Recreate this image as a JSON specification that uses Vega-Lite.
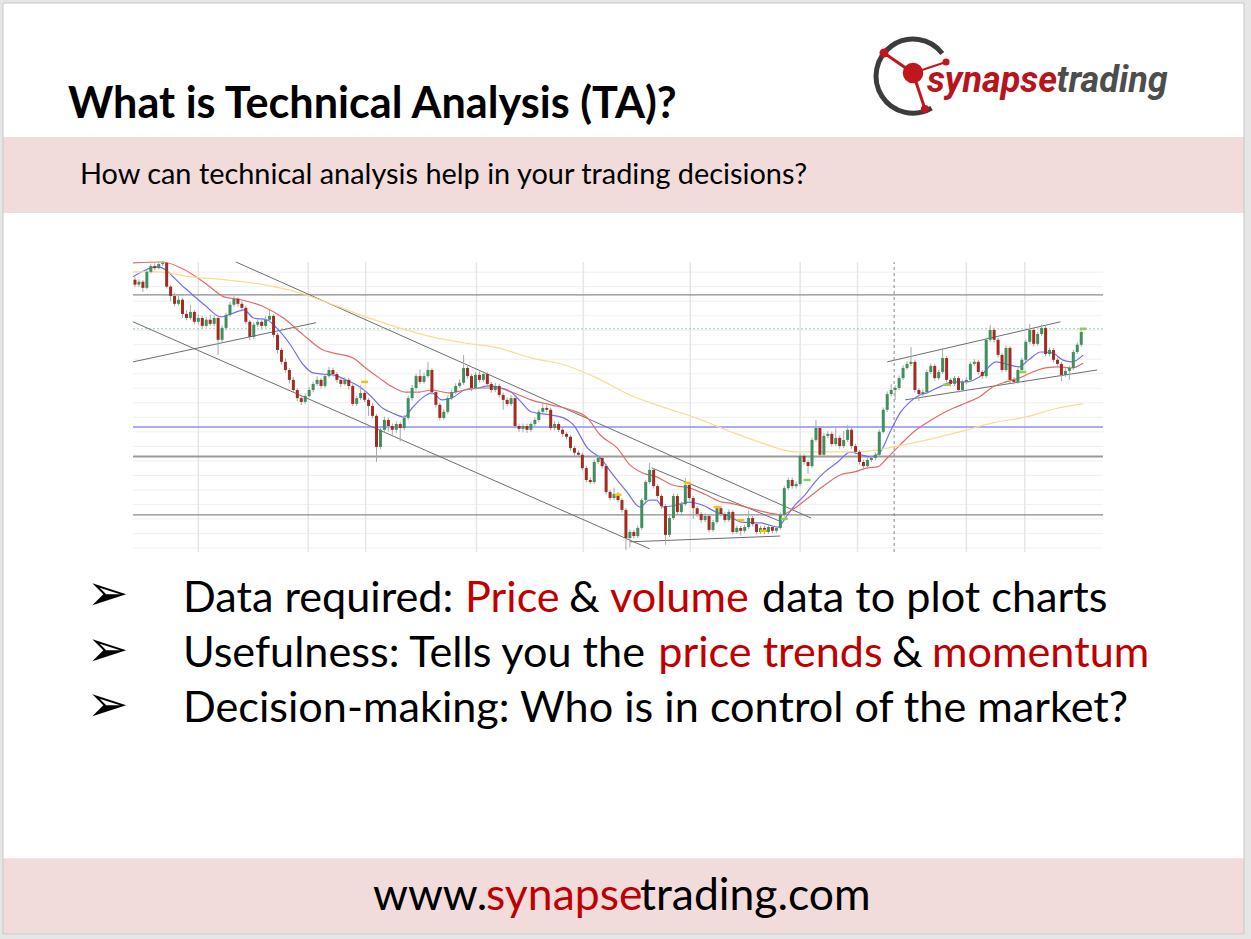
{
"$schema":"https://vega.github.io/schema/vega-lite/v6.json",
"width":1251,"height":939,"autosize":{"type":"none"},"padding":0,"background":"#ffffff",
"config":{"view":{"stroke":null}},
"datasets":{
"candles":[
{"i":0,"o":192.4,"h":193.3,"l":189.8,"c":190.7},{"i":1,"o":190.7,"h":192.5,"l":189.9,"c":191.7},{"i":2,"o":191.7,"h":192.3,"l":188.2,"c":189.6},{"i":3,"o":189.6,"h":195.8,"l":189.0,"c":195.1},{"i":4,"o":195.1,"h":197.9,"l":194.5,"c":197.1},{"i":5,"o":197.1,"h":198.0,"l":195.6,"c":196.4},{"i":6,"o":196.4,"h":198.6,"l":195.9,"c":197.8},{"i":7,"o":197.8,"h":198.9,"l":197.0,"c":198.2},{"i":8,"o":198.2,"h":198.6,"l":189.3,"c":190.0},{"i":9,"o":190.0,"h":190.6,"l":185.0,"c":186.8},
{"i":10,"o":186.8,"h":187.9,"l":183.2,"c":184.1},{"i":11,"o":184.1,"h":186.9,"l":183.5,"c":185.5},{"i":12,"o":185.5,"h":186.1,"l":179.2,"c":180.6},{"i":13,"o":180.6,"h":181.9,"l":178.4,"c":179.2},{"i":14,"o":179.2,"h":183.8,"l":178.6,"c":181.3},{"i":15,"o":181.3,"h":182.0,"l":177.0,"c":177.9},{"i":16,"o":177.9,"h":180.4,"l":177.1,"c":179.2},{"i":17,"o":179.2,"h":180.0,"l":175.4,"c":176.5},{"i":18,"o":176.5,"h":179.5,"l":175.9,"c":178.6},{"i":19,"o":178.6,"h":180.3,"l":176.5,"c":177.2},
{"i":20,"o":177.2,"h":180.1,"l":176.3,"c":179.2},{"i":21,"o":179.2,"h":179.8,"l":166.5,"c":171.7},{"i":22,"o":171.7,"h":176.6,"l":170.9,"c":175.8},{"i":23,"o":175.8,"h":181.0,"l":175.0,"c":180.3},{"i":24,"o":180.3,"h":184.7,"l":179.6,"c":183.8},{"i":25,"o":183.8,"h":186.8,"l":183.1,"c":185.8},{"i":26,"o":185.8,"h":186.4,"l":183.2,"c":184.1},{"i":27,"o":184.1,"h":185.0,"l":181.5,"c":182.7},{"i":28,"o":182.7,"h":183.4,"l":177.0,"c":177.9},{"i":29,"o":177.9,"h":178.5,"l":171.6,"c":172.7},
{"i":30,"o":172.7,"h":177.8,"l":172.0,"c":176.9},{"i":31,"o":176.9,"h":178.8,"l":176.1,"c":177.9},{"i":32,"o":177.9,"h":178.6,"l":175.3,"c":176.5},{"i":33,"o":176.5,"h":179.7,"l":175.9,"c":178.6},{"i":34,"o":178.6,"h":181.9,"l":177.8,"c":179.9},{"i":35,"o":179.9,"h":180.6,"l":172.5,"c":173.4},{"i":36,"o":173.4,"h":174.1,"l":167.0,"c":168.2},{"i":37,"o":168.2,"h":168.9,"l":163.2,"c":164.1},{"i":38,"o":164.1,"h":165.3,"l":160.4,"c":161.3},{"i":39,"o":161.3,"h":162.0,"l":156.6,"c":157.9},
{"i":40,"o":157.9,"h":158.9,"l":153.5,"c":154.4},{"i":41,"o":154.4,"h":155.1,"l":150.5,"c":151.6},{"i":42,"o":151.6,"h":152.5,"l":149.2,"c":150.3},{"i":43,"o":150.3,"h":153.2,"l":149.6,"c":152.3},{"i":44,"o":152.3,"h":155.4,"l":151.8,"c":154.4},{"i":45,"o":154.4,"h":157.3,"l":153.6,"c":156.5},{"i":46,"o":156.5,"h":159.1,"l":155.9,"c":157.9},{"i":47,"o":157.9,"h":158.5,"l":154.9,"c":155.8},{"i":48,"o":155.8,"h":160.0,"l":155.1,"c":159.2},{"i":49,"o":159.2,"h":162.4,"l":158.5,"c":161.3},
{"i":50,"o":161.3,"h":162.1,"l":159.0,"c":159.9},{"i":51,"o":159.9,"h":160.6,"l":156.9,"c":157.9},{"i":52,"o":157.9,"h":158.7,"l":155.4,"c":156.5},{"i":53,"o":156.5,"h":158.8,"l":155.9,"c":157.9},{"i":54,"o":157.9,"h":158.6,"l":154.6,"c":155.8},{"i":55,"o":155.8,"h":156.4,"l":148.8,"c":149.6},{"i":56,"o":149.6,"h":152.4,"l":148.9,"c":151.6},{"i":57,"o":151.6,"h":156.2,"l":150.9,"c":153.4},{"i":58,"o":153.4,"h":154.3,"l":150.2,"c":151.0},{"i":59,"o":151.0,"h":151.7,"l":145.5,"c":148.9},
{"i":60,"o":148.9,"h":149.8,"l":144.6,"c":145.5},{"i":61,"o":145.5,"h":146.2,"l":129.6,"c":134.8},{"i":62,"o":134.8,"h":141.5,"l":134.0,"c":140.7},{"i":63,"o":140.7,"h":145.2,"l":139.8,"c":144.1},{"i":64,"o":144.1,"h":144.9,"l":140.1,"c":142.0},{"i":65,"o":142.0,"h":142.9,"l":139.0,"c":140.7},{"i":66,"o":140.7,"h":143.6,"l":139.6,"c":142.7},{"i":67,"o":142.7,"h":143.4,"l":136.7,"c":141.3},{"i":68,"o":141.3,"h":145.8,"l":140.5,"c":144.8},{"i":69,"o":144.8,"h":152.4,"l":144.1,"c":151.6},
{"i":70,"o":151.6,"h":156.1,"l":150.7,"c":155.1},{"i":71,"o":155.1,"h":160.0,"l":154.3,"c":159.2},{"i":72,"o":159.2,"h":161.5,"l":156.4,"c":157.2},{"i":73,"o":157.2,"h":160.4,"l":156.5,"c":159.2},{"i":74,"o":159.2,"h":164.1,"l":158.6,"c":161.3},{"i":75,"o":161.3,"h":161.9,"l":152.8,"c":153.7},{"i":76,"o":153.7,"h":154.4,"l":148.4,"c":149.3},{"i":77,"o":149.3,"h":150.0,"l":143.9,"c":144.8},{"i":78,"o":144.8,"h":147.8,"l":144.1,"c":146.9},{"i":79,"o":146.9,"h":152.5,"l":146.2,"c":151.6},
{"i":80,"o":151.6,"h":154.6,"l":150.9,"c":153.7},{"i":81,"o":153.7,"h":156.7,"l":153.0,"c":155.8},{"i":82,"o":155.8,"h":158.1,"l":155.1,"c":156.9},{"i":83,"o":156.9,"h":166.5,"l":156.2,"c":162.0},{"i":84,"o":162.0,"h":162.8,"l":158.3,"c":159.2},{"i":85,"o":159.2,"h":159.9,"l":154.0,"c":155.1},{"i":86,"o":155.1,"h":160.5,"l":154.5,"c":159.6},{"i":87,"o":159.6,"h":160.8,"l":157.1,"c":157.9},{"i":88,"o":157.9,"h":160.7,"l":157.2,"c":159.9},{"i":89,"o":159.9,"h":160.6,"l":155.6,"c":156.5},
{"i":90,"o":156.5,"h":157.2,"l":153.4,"c":154.4},{"i":91,"o":154.4,"h":156.9,"l":153.7,"c":155.8},{"i":92,"o":155.8,"h":156.6,"l":151.8,"c":152.7},{"i":93,"o":152.7,"h":153.5,"l":147.6,"c":151.0},{"i":94,"o":151.0,"h":151.9,"l":148.7,"c":149.6},{"i":95,"o":149.6,"h":152.6,"l":148.9,"c":151.6},{"i":96,"o":151.6,"h":152.3,"l":141.2,"c":142.0},{"i":97,"o":142.0,"h":142.8,"l":140.0,"c":141.0},{"i":98,"o":141.0,"h":142.9,"l":139.8,"c":142.0},{"i":99,"o":142.0,"h":142.8,"l":139.6,"c":140.7},
{"i":100,"o":140.7,"h":143.5,"l":140.0,"c":142.7},{"i":101,"o":142.7,"h":145.0,"l":142.0,"c":144.1},{"i":102,"o":144.1,"h":147.7,"l":143.4,"c":146.9},{"i":103,"o":146.9,"h":149.5,"l":146.2,"c":148.2},{"i":104,"o":148.2,"h":149.2,"l":146.8,"c":147.6},{"i":105,"o":147.6,"h":148.3,"l":140.5,"c":141.3},{"i":106,"o":141.3,"h":143.6,"l":140.4,"c":142.7},{"i":107,"o":142.7,"h":143.4,"l":139.9,"c":140.7},{"i":108,"o":140.7,"h":141.4,"l":138.4,"c":139.3},{"i":109,"o":139.3,"h":140.0,"l":137.4,"c":138.3},
{"i":110,"o":138.3,"h":139.0,"l":133.5,"c":134.4},{"i":111,"o":134.4,"h":135.2,"l":131.9,"c":132.8},{"i":112,"o":132.8,"h":133.6,"l":131.2,"c":132.1},{"i":113,"o":132.1,"h":132.8,"l":126.6,"c":127.5},{"i":114,"o":127.5,"h":128.3,"l":122.5,"c":123.4},{"i":115,"o":123.4,"h":124.4,"l":121.9,"c":122.7},{"i":116,"o":122.7,"h":130.4,"l":122.0,"c":129.6},{"i":117,"o":129.6,"h":132.0,"l":128.9,"c":131.0},{"i":118,"o":131.0,"h":131.7,"l":127.3,"c":128.2},{"i":119,"o":128.2,"h":128.9,"l":118.4,"c":119.3},
{"i":120,"o":119.3,"h":120.0,"l":116.3,"c":117.2},{"i":121,"o":117.2,"h":120.8,"l":116.5,"c":118.6},{"i":122,"o":118.6,"h":119.3,"l":115.6,"c":116.5},{"i":123,"o":116.5,"h":117.2,"l":112.2,"c":113.1},{"i":124,"o":113.1,"h":113.8,"l":99.3,"c":103.4},{"i":125,"o":103.4,"h":106.3,"l":100.2,"c":105.5},{"i":126,"o":105.5,"h":106.2,"l":103.2,"c":104.1},{"i":127,"o":104.1,"h":107.7,"l":103.4,"c":106.9},{"i":128,"o":106.9,"h":117.3,"l":106.2,"c":116.5},{"i":129,"o":116.5,"h":123.5,"l":115.8,"c":122.7},
{"i":130,"o":122.7,"h":129.3,"l":122.0,"c":126.9},{"i":131,"o":126.9,"h":127.6,"l":120.4,"c":121.3},{"i":132,"o":121.3,"h":122.0,"l":117.0,"c":117.9},{"i":133,"o":117.9,"h":118.6,"l":113.5,"c":114.4},{"i":134,"o":114.4,"h":115.1,"l":101.1,"c":104.5},{"i":135,"o":104.5,"h":111.1,"l":103.8,"c":110.3},{"i":136,"o":110.3,"h":118.7,"l":109.6,"c":117.9},{"i":137,"o":117.9,"h":118.6,"l":111.5,"c":112.4},{"i":138,"o":112.4,"h":116.0,"l":111.7,"c":115.1},{"i":139,"o":115.1,"h":124.1,"l":114.4,"c":121.7},
{"i":140,"o":121.7,"h":122.4,"l":116.3,"c":117.2},{"i":141,"o":117.2,"h":117.9,"l":110.0,"c":113.7},{"i":142,"o":113.7,"h":114.5,"l":110.8,"c":111.7},{"i":143,"o":111.7,"h":112.4,"l":108.7,"c":109.6},{"i":144,"o":109.6,"h":111.9,"l":108.9,"c":111.0},{"i":145,"o":111.0,"h":111.7,"l":105.3,"c":106.2},{"i":146,"o":106.2,"h":109.7,"l":105.5,"c":108.9},{"i":147,"o":108.9,"h":114.6,"l":108.2,"c":113.7},{"i":148,"o":113.7,"h":114.4,"l":110.8,"c":111.7},{"i":149,"o":111.7,"h":112.4,"l":108.7,"c":109.6},
{"i":150,"o":109.6,"h":113.3,"l":108.9,"c":112.4},{"i":151,"o":112.4,"h":113.1,"l":104.6,"c":105.5},{"i":152,"o":105.5,"h":107.7,"l":104.8,"c":106.9},{"i":153,"o":106.9,"h":107.6,"l":104.2,"c":105.9},{"i":154,"o":105.9,"h":108.0,"l":105.2,"c":107.2},{"i":155,"o":107.2,"h":112.8,"l":106.5,"c":110.3},{"i":156,"o":110.3,"h":111.0,"l":107.4,"c":108.2},{"i":157,"o":108.2,"h":108.9,"l":104.6,"c":105.5},{"i":158,"o":105.5,"h":107.7,"l":104.8,"c":106.9},{"i":159,"o":106.9,"h":107.6,"l":104.7,"c":105.5},
{"i":160,"o":105.5,"h":108.0,"l":104.9,"c":107.2},{"i":161,"o":107.2,"h":107.9,"l":105.0,"c":105.9},{"i":162,"o":105.9,"h":107.6,"l":105.2,"c":106.9},{"i":163,"o":106.9,"h":112.2,"l":106.2,"c":111.4},{"i":164,"o":111.4,"h":121.4,"l":110.7,"c":120.6},{"i":165,"o":120.6,"h":124.3,"l":119.9,"c":123.4},{"i":166,"o":123.4,"h":124.2,"l":120.4,"c":121.3},{"i":167,"o":121.3,"h":122.9,"l":120.5,"c":122.0},{"i":168,"o":122.0,"h":132.5,"l":121.3,"c":131.7},{"i":169,"o":131.7,"h":132.4,"l":128.7,"c":129.6},
{"i":170,"o":129.6,"h":130.3,"l":125.5,"c":128.2},{"i":171,"o":128.2,"h":138.0,"l":127.5,"c":137.2},{"i":172,"o":137.2,"h":144.1,"l":136.5,"c":141.3},{"i":173,"o":141.3,"h":142.0,"l":131.2,"c":132.1},{"i":174,"o":132.1,"h":139.5,"l":131.4,"c":138.6},{"i":175,"o":138.6,"h":140.2,"l":137.8,"c":139.3},{"i":176,"o":139.3,"h":140.1,"l":134.9,"c":135.8},{"i":177,"o":135.8,"h":141.2,"l":135.1,"c":137.9},{"i":178,"o":137.9,"h":138.7,"l":134.2,"c":135.1},{"i":179,"o":135.1,"h":140.4,"l":134.4,"c":137.2},
{"i":180,"o":137.2,"h":142.4,"l":136.5,"c":140.7},{"i":181,"o":140.7,"h":141.4,"l":134.2,"c":135.1},{"i":182,"o":135.1,"h":135.9,"l":132.2,"c":133.1},{"i":183,"o":133.1,"h":133.8,"l":128.7,"c":129.6},{"i":184,"o":129.6,"h":130.4,"l":126.9,"c":128.2},{"i":185,"o":128.2,"h":131.1,"l":127.5,"c":130.3},{"i":186,"o":130.3,"h":131.9,"l":129.6,"c":131.0},{"i":187,"o":131.0,"h":133.0,"l":130.2,"c":132.1},{"i":188,"o":132.1,"h":140.8,"l":131.4,"c":140.0},{"i":189,"o":140.0,"h":148.4,"l":139.3,"c":147.6},
{"i":190,"o":147.6,"h":153.9,"l":146.9,"c":153.0},{"i":191,"o":153.0,"h":156.5,"l":152.2,"c":154.4},{"i":192,"o":154.4,"h":156.0,"l":151.0,"c":155.1},{"i":193,"o":155.1,"h":159.4,"l":154.4,"c":158.5},{"i":194,"o":158.5,"h":162.9,"l":157.8,"c":162.0},{"i":195,"o":162.0,"h":164.3,"l":161.3,"c":163.4},{"i":196,"o":163.4,"h":169.2,"l":162.6,"c":164.1},{"i":197,"o":164.1,"h":164.8,"l":153.5,"c":154.4},{"i":198,"o":154.4,"h":155.1,"l":150.6,"c":153.0},{"i":199,"o":153.0,"h":154.6,"l":152.2,"c":153.7},
{"i":200,"o":153.7,"h":161.4,"l":153.0,"c":160.6},{"i":201,"o":160.6,"h":163.6,"l":159.9,"c":162.7},{"i":202,"o":162.7,"h":163.4,"l":157.6,"c":158.5},{"i":203,"o":158.5,"h":161.5,"l":157.8,"c":160.6},{"i":204,"o":160.6,"h":168.9,"l":159.9,"c":165.4},{"i":205,"o":165.4,"h":166.1,"l":157.0,"c":157.9},{"i":206,"o":157.9,"h":158.6,"l":155.6,"c":156.5},{"i":207,"o":156.5,"h":159.3,"l":155.8,"c":158.5},{"i":208,"o":158.5,"h":159.2,"l":153.5,"c":154.4},{"i":209,"o":154.4,"h":158.0,"l":153.7,"c":157.2},
{"i":210,"o":157.2,"h":158.8,"l":156.4,"c":157.9},{"i":211,"o":157.9,"h":164.2,"l":157.2,"c":163.4},{"i":212,"o":163.4,"h":165.0,"l":162.6,"c":164.1},{"i":213,"o":164.1,"h":164.8,"l":159.7,"c":160.6},{"i":214,"o":160.6,"h":161.3,"l":158.2,"c":159.2},{"i":215,"o":159.2,"h":172.5,"l":158.5,"c":171.7},{"i":216,"o":171.7,"h":176.8,"l":171.0,"c":175.1},{"i":217,"o":175.1,"h":175.9,"l":170.8,"c":171.7},{"i":218,"o":171.7,"h":172.4,"l":165.6,"c":166.5},{"i":219,"o":166.5,"h":167.2,"l":160.4,"c":161.3},
{"i":220,"o":161.3,"h":169.8,"l":160.6,"c":168.9},{"i":221,"o":168.9,"h":169.6,"l":156.8,"c":157.9},{"i":222,"o":157.9,"h":158.8,"l":156.3,"c":157.2},{"i":223,"o":157.2,"h":162.1,"l":156.5,"c":161.3},{"i":224,"o":161.3,"h":165.6,"l":160.6,"c":164.8},{"i":225,"o":164.8,"h":171.8,"l":164.1,"c":171.0},{"i":226,"o":171.0,"h":177.2,"l":170.3,"c":175.1},{"i":227,"o":175.1,"h":175.8,"l":169.4,"c":170.3},{"i":228,"o":170.3,"h":174.5,"l":169.6,"c":173.7},{"i":229,"o":173.7,"h":177.0,"l":173.0,"c":175.8},
{"i":230,"o":175.8,"h":176.5,"l":165.9,"c":166.8},{"i":231,"o":166.8,"h":169.1,"l":166.0,"c":168.2},{"i":232,"o":168.2,"h":168.9,"l":163.9,"c":164.8},{"i":233,"o":164.8,"h":165.5,"l":162.5,"c":163.4},{"i":234,"o":163.4,"h":164.1,"l":157.5,"c":159.6},{"i":235,"o":159.6,"h":161.9,"l":158.9,"c":161.0},{"i":236,"o":161.0,"h":162.8,"l":157.9,"c":162.0},{"i":237,"o":162.0,"h":168.3,"l":161.3,"c":167.5},{"i":238,"o":167.5,"h":170.8,"l":166.8,"c":170.0},{"i":239,"o":170.0,"h":175.5,"l":169.3,"c":174.4}
],
"ma":[
{"s":"fast","i":-0.5,"p":193.4},{"s":"fast","i":5.75,"p":196.8},{"s":"fast","i":12.5,"p":189.6},{"s":"fast","i":17.5,"p":183.8},{"s":"fast","i":21.75,"p":179.6},{"s":"fast","i":25,"p":181.0},{"s":"fast","i":27.5,"p":182.0},{"s":"fast","i":30,"p":179.2},{"s":"fast","i":33.25,"p":178.6},{"s":"fast","i":35.75,"p":175.8},{"s":"fast","i":39.25,"p":170.0},{"s":"fast","i":42.5,"p":163.1},{"s":"fast","i":45,"p":160.3},{"s":"fast","i":47.5,"p":159.9},{"s":"fast","i":50,"p":159.6},{"s":"fast","i":53.25,"p":157.9},{"s":"fast","i":56.75,"p":155.5},{"s":"fast","i":59.25,"p":152.7},{"s":"fast","i":62.5,"p":148.2},{"s":"fast","i":65,"p":146.5},{"s":"fast","i":68,"p":145.1},{"s":"fast","i":70,"p":148.2},{"s":"fast","i":72.5,"p":151.6},{"s":"fast","i":75,"p":153.4},{"s":"fast","i":77.5,"p":151.0},{"s":"fast","i":80,"p":151.6},{"s":"fast","i":83.25,"p":154.4},{"s":"fast","i":86.75,"p":155.1},{"s":"fast","i":89.25,"p":155.8},{"s":"fast","i":92.5,"p":155.1},{"s":"fast","i":95,"p":153.7},{"s":"fast","i":97.5,"p":150.3},{"s":"fast","i":100,"p":146.9},{"s":"fast","i":105,"p":145.8},{"s":"fast","i":108.25,"p":144.8},{"s":"fast","i":110.75,"p":142.4},{"s":"fast","i":114.25,"p":134.5},{"s":"fast","i":117.5,"p":131.0},{"s":"fast","i":120.75,"p":125.2},{"s":"fast","i":124.25,"p":119.3},{"s":"fast","i":127.5,"p":114.1},{"s":"fast","i":130,"p":116.5},{"s":"fast","i":131.75,"p":116.5},{"s":"fast","i":133.25,"p":114.1},{"s":"fast","i":136.75,"p":114.8},{"s":"fast","i":140,"p":115.8},{"s":"fast","i":143.25,"p":114.8},{"s":"fast","i":146.75,"p":112.4},{"s":"fast","i":150,"p":111.0},{"s":"fast","i":153.25,"p":108.9},{"s":"fast","i":158.25,"p":108.6},{"s":"fast","i":162.5,"p":107.2},{"s":"fast","i":164.25,"p":110.3},{"s":"fast","i":166.75,"p":114.8},{"s":"fast","i":169.25,"p":118.3},{"s":"fast","i":171.75,"p":122.7},{"s":"fast","i":174.25,"p":126.2},{"s":"fast","i":177.5,"p":129.6},{"s":"fast","i":180.75,"p":133.1},{"s":"fast","i":183.25,"p":132.1},{"s":"fast","i":185.75,"p":131.4},{"s":"fast","i":188.25,"p":133.1},{"s":"fast","i":190.75,"p":140.0},{"s":"fast","i":193.25,"p":146.5},{"s":"fast","i":195.75,"p":150.3},{"s":"fast","i":198.25,"p":152.7},{"s":"fast","i":200,"p":153.4},{"s":"fast","i":203.25,"p":155.5},{"s":"fast","i":206.75,"p":157.2},{"s":"fast","i":210,"p":157.2},{"s":"fast","i":213.25,"p":158.9},{"s":"fast","i":217.5,"p":164.1},{"s":"fast","i":220.75,"p":163.1},{"s":"fast","i":223.25,"p":162.4},{"s":"fast","i":225.75,"p":164.8},{"s":"fast","i":228.75,"p":167.5},{"s":"fast","i":231.75,"p":167.2},{"s":"fast","i":234.25,"p":164.8},{"s":"fast","i":236.75,"p":164.1},{"s":"fast","i":239.5,"p":166.5},
{"s":"mid","i":-0.5,"p":198.2},{"s":"mid","i":7,"p":198.5},{"s":"mid","i":12.5,"p":195.8},{"s":"mid","i":18.25,"p":190.7},{"s":"mid","i":22.5,"p":186.5},{"s":"mid","i":26.75,"p":185.5},{"s":"mid","i":32.5,"p":183.1},{"s":"mid","i":37.5,"p":179.2},{"s":"mid","i":42.5,"p":173.4},{"s":"mid","i":47.5,"p":168.2},{"s":"mid","i":50,"p":167.2},{"s":"mid","i":55,"p":165.5},{"s":"mid","i":58.25,"p":162.0},{"s":"mid","i":61.75,"p":158.5},{"s":"mid","i":65,"p":155.5},{"s":"mid","i":68.25,"p":153.7},{"s":"mid","i":71.75,"p":153.7},{"s":"mid","i":75,"p":154.4},{"s":"mid","i":79.25,"p":153.4},{"s":"mid","i":83.25,"p":154.4},{"s":"mid","i":87.5,"p":155.1},{"s":"mid","i":91.75,"p":155.1},{"s":"mid","i":95,"p":153.7},{"s":"mid","i":98.25,"p":152.0},{"s":"mid","i":100,"p":151.0},{"s":"mid","i":105,"p":149.3},{"s":"mid","i":110,"p":147.6},{"s":"mid","i":114.25,"p":144.8},{"s":"mid","i":117.5,"p":138.9},{"s":"mid","i":121.75,"p":134.5},{"s":"mid","i":125,"p":128.6},{"s":"mid","i":128.25,"p":125.8},{"s":"mid","i":131.75,"p":124.5},{"s":"mid","i":135.75,"p":121.7},{"s":"mid","i":140,"p":120.7},{"s":"mid","i":144.25,"p":118.3},{"s":"mid","i":148.25,"p":115.8},{"s":"mid","i":150,"p":115.5},{"s":"mid","i":155,"p":113.8},{"s":"mid","i":160,"p":112.1},{"s":"mid","i":163.25,"p":111.4},{"s":"mid","i":166.75,"p":113.8},{"s":"mid","i":170,"p":117.2},{"s":"mid","i":174.25,"p":121.7},{"s":"mid","i":178.25,"p":125.2},{"s":"mid","i":181.75,"p":126.2},{"s":"mid","i":185,"p":127.6},{"s":"mid","i":187.5,"p":127.9},{"s":"mid","i":190,"p":131.0},{"s":"mid","i":193.25,"p":135.5},{"s":"mid","i":196.75,"p":140.0},{"s":"mid","i":200,"p":143.1},{"s":"mid","i":203.25,"p":145.8},{"s":"mid","i":206.75,"p":148.2},{"s":"mid","i":210,"p":150.0},{"s":"mid","i":213.25,"p":152.0},{"s":"mid","i":216.75,"p":155.5},{"s":"mid","i":220,"p":157.2},{"s":"mid","i":223.25,"p":158.5},{"s":"mid","i":226.75,"p":160.6},{"s":"mid","i":230,"p":162.0},{"s":"mid","i":233.25,"p":162.4},{"s":"mid","i":236.75,"p":162.0},{"s":"mid","i":239.5,"p":163.7},
{"s":"slow","i":-0.5,"p":195.1},{"s":"slow","i":5.75,"p":195.1},{"s":"slow","i":14.25,"p":193.4},{"s":"slow","i":22.5,"p":192.4},{"s":"slow","i":32.5,"p":190.7},{"s":"slow","i":40.75,"p":188.2},{"s":"slow","i":50,"p":183.8},{"s":"slow","i":58.25,"p":179.6},{"s":"slow","i":66.75,"p":175.8},{"s":"slow","i":75,"p":172.7},{"s":"slow","i":83.25,"p":170.6},{"s":"slow","i":91.75,"p":168.9},{"s":"slow","i":100,"p":165.5},{"s":"slow","i":108.25,"p":163.1},{"s":"slow","i":116.75,"p":158.5},{"s":"slow","i":125,"p":152.7},{"s":"slow","i":133.25,"p":148.6},{"s":"slow","i":141.75,"p":144.8},{"s":"slow","i":150,"p":140.3},{"s":"slow","i":158.25,"p":136.2},{"s":"slow","i":166.75,"p":133.1},{"s":"slow","i":175,"p":133.1},{"s":"slow","i":183.25,"p":133.1},{"s":"slow","i":191.75,"p":134.8},{"s":"slow","i":200,"p":137.2},{"s":"slow","i":208.25,"p":140.0},{"s":"slow","i":216.75,"p":143.1},{"s":"slow","i":225,"p":145.1},{"s":"slow","i":233.25,"p":148.2},{"s":"slow","i":239.5,"p":149.6}
],
"trend":[
{"i1":25.5,"p1":198.5,"i2":170.75,"p2":110.3},{"i1":-0.5,"p1":177.9,"i2":130,"p2":99.7},{"i1":-0.5,"p1":164.1,"i2":45.75,"p2":177.6},{"i1":125,"p1":102.1,"i2":163,"p2":104.1},{"i1":130.5,"p1":127.6,"i2":163.25,"p2":109.0},{"i1":190,"p1":164.1,"i2":233.75,"p2":177.9},{"i1":194.5,"p1":151.0,"i2":243,"p2":161.3}
],
"signals":[
{"k":"y","i":58,"p":157.2},{"k":"y","i":122,"p":118.3},{"k":"y","i":139.5,"p":122.4},{"k":"y","i":147,"p":114.1},{"k":"y","i":153,"p":109.6},{"k":"y","i":158.75,"p":105.9},
{"k":"g","i":164,"p":110.0},{"k":"g","i":169.75,"p":123.4},{"k":"g","i":205,"p":156.2},{"k":"g","i":224.25,"p":160.6},{"k":"g","i":239.5,"p":175.5}
],
"vgrid":[{"g":16},{"g":43.75},{"g":58.25},{"g":86.25},{"g":113.25},{"g":140.25},{"g":168},{"g":182.5},{"g":210},{"g":224.75}],
"hgrid":[{"g":100},{"g":105},{"g":110},{"g":115},{"g":120},{"g":125},{"g":130},{"g":135},{"g":140},{"g":145},{"g":150},{"g":155},{"g":160},{"g":165},{"g":170},{"g":175},{"g":180},{"g":185},{"g":190},{"g":195}]
},
"resolve":{"scale":{"x":"independent","y":"independent","color":"independent"}},
"layer":[
{"layer":[
{"data":{"values":[{"p":"header"}]},"mark":{"type":"rect","color":"#f2dcdb"},"encoding":{"x":{"datum":0,"type":"quantitative","scale":{"domain":[0,10],"range":[3,1244]},"axis":null},"x2":{"datum":10},"y":{"datum":1.08,"type":"quantitative","scale":{"domain":[0,7.5],"range":[3,934]},"axis":null},"y2":{"datum":1.692}}},
{"data":{"values":[{"p":"footer"}]},"mark":{"type":"rect","color":"#f2dcdb"},"encoding":{"x":{"datum":0,"type":"quantitative","scale":{"domain":[0,10],"range":[3,1244]},"axis":null},"x2":{"datum":10},"y":{"datum":6.89,"type":"quantitative","scale":{"domain":[0,7.5],"range":[3,934]},"axis":null},"y2":{"datum":7.5}}},
{"data":{"values":[{"p":"frame"}]},"mark":{"type":"rect","filled":false,"stroke":"#e6e6e6","strokeWidth":10},"encoding":{"x":{"datum":-0.04,"type":"quantitative","scale":{"domain":[0,10],"range":[3,1244]},"axis":null},"x2":{"datum":10.04},"y":{"datum":-0.04,"type":"quantitative","scale":{"domain":[0,7.5],"range":[3,934]},"axis":null},"y2":{"datum":7.542}}},
{"data":{"values":[{"p":"edge"}]},"mark":{"type":"rect","filled":false,"stroke":"#c8c8c8","strokeWidth":1},"encoding":{"x":{"datum":0,"type":"quantitative","scale":{"domain":[0,10],"range":[3,1244]},"axis":null},"x2":{"datum":10},"y":{"datum":0,"type":"quantitative","scale":{"domain":[0,7.5],"range":[3,934]},"axis":null},"y2":{"datum":7.5}}},
{"data":{"values":[{"t":"What is Technical Analysis (TA)?"}]},"mark":{"type":"text","align":"left","baseline":"alphabetic","font":"Lato","fontWeight":"bold","fontSize":43.2,"color":"#000000"},"encoding":{"x":{"datum":0.524,"type":"quantitative","scale":{"domain":[0,10],"range":[3,1244]},"axis":null},"y":{"datum":0.927,"type":"quantitative","scale":{"domain":[0,7.5],"range":[3,934]},"axis":null},"text":{"field":"t"}}},
{"data":{"values":[{"t":"How can technical analysis help in your trading decisions?"}]},"mark":{"type":"text","align":"left","baseline":"alphabetic","font":"Lato","fontSize":28.9,"color":"#000000"},"encoding":{"x":{"datum":0.62,"type":"quantitative","scale":{"domain":[0,10],"range":[3,1244]},"axis":null},"y":{"datum":1.459,"type":"quantitative","scale":{"domain":[0,7.5],"range":[3,934]},"axis":null},"text":{"field":"t"}}},
{"data":{"values":[{"t":"➢"}]},"mark":{"type":"text","align":"left","baseline":"middle","font":"DejaVu Sans","fontSize":50,"color":"#000000"},"encoding":{"x":{"datum":0.675,"type":"quantitative","scale":{"domain":[0,10],"range":[3,1244]},"axis":null},"y":{"datum":4.77,"type":"quantitative","scale":{"domain":[0,7.5],"range":[3,934]},"axis":null},"text":{"field":"t"}}},
{"data":{"values":[{"t":"➢"}]},"mark":{"type":"text","align":"left","baseline":"middle","font":"DejaVu Sans","fontSize":50,"color":"#000000"},"encoding":{"x":{"datum":0.675,"type":"quantitative","scale":{"domain":[0,10],"range":[3,1244]},"axis":null},"y":{"datum":5.217,"type":"quantitative","scale":{"domain":[0,7.5],"range":[3,934]},"axis":null},"text":{"field":"t"}}},
{"data":{"values":[{"t":"➢"}]},"mark":{"type":"text","align":"left","baseline":"middle","font":"DejaVu Sans","fontSize":50,"color":"#000000"},"encoding":{"x":{"datum":0.675,"type":"quantitative","scale":{"domain":[0,10],"range":[3,1244]},"axis":null},"y":{"datum":5.665,"type":"quantitative","scale":{"domain":[0,7.5],"range":[3,934]},"axis":null},"text":{"field":"t"}}},
{"data":{"values":[{"t":"Data required:"}]},"mark":{"type":"text","align":"left","baseline":"alphabetic","font":"Lato","fontSize":43.2,"color":"#000000"},"encoding":{"x":{"datum":1.45,"type":"quantitative","scale":{"domain":[0,10],"range":[3,1244]},"axis":null},"y":{"datum":4.907,"type":"quantitative","scale":{"domain":[0,7.5],"range":[3,934]},"axis":null},"text":{"field":"t"}}},
{"data":{"values":[{"t":"Price"}]},"mark":{"type":"text","align":"left","baseline":"alphabetic","font":"Lato","fontSize":43.2,"color":"#c00000"},"encoding":{"x":{"datum":3.723,"type":"quantitative","scale":{"domain":[0,10],"range":[3,1244]},"axis":null},"y":{"datum":4.907,"type":"quantitative","scale":{"domain":[0,7.5],"range":[3,934]},"axis":null},"text":{"field":"t"}}},
{"data":{"values":[{"t":"&"}]},"mark":{"type":"text","align":"left","baseline":"alphabetic","font":"Lato","fontSize":43.2,"color":"#000000"},"encoding":{"x":{"datum":4.561,"type":"quantitative","scale":{"domain":[0,10],"range":[3,1244]},"axis":null},"y":{"datum":4.907,"type":"quantitative","scale":{"domain":[0,7.5],"range":[3,934]},"axis":null},"text":{"field":"t"}}},
{"data":{"values":[{"t":"volume"}]},"mark":{"type":"text","align":"left","baseline":"alphabetic","font":"Lato","fontSize":43.2,"color":"#c00000"},"encoding":{"x":{"datum":4.891,"type":"quantitative","scale":{"domain":[0,10],"range":[3,1244]},"axis":null},"y":{"datum":4.907,"type":"quantitative","scale":{"domain":[0,7.5],"range":[3,934]},"axis":null},"text":{"field":"t"}}},
{"data":{"values":[{"t":"data to plot charts"}]},"mark":{"type":"text","align":"left","baseline":"alphabetic","font":"Lato","fontSize":43.2,"color":"#000000"},"encoding":{"x":{"datum":6.116,"type":"quantitative","scale":{"domain":[0,10],"range":[3,1244]},"axis":null},"y":{"datum":4.907,"type":"quantitative","scale":{"domain":[0,7.5],"range":[3,934]},"axis":null},"text":{"field":"t"}}},
{"data":{"values":[{"t":"Usefulness: Tells you the"}]},"mark":{"type":"text","align":"left","baseline":"alphabetic","font":"Lato","fontSize":43.2,"color":"#000000"},"encoding":{"x":{"datum":1.45,"type":"quantitative","scale":{"domain":[0,10],"range":[3,1244]},"axis":null},"y":{"datum":5.351,"type":"quantitative","scale":{"domain":[0,7.5],"range":[3,934]},"axis":null},"text":{"field":"t"}}},
{"data":{"values":[{"t":"price trends"}]},"mark":{"type":"text","align":"left","baseline":"alphabetic","font":"Lato","fontSize":43.2,"color":"#c00000"},"encoding":{"x":{"datum":5.28,"type":"quantitative","scale":{"domain":[0,10],"range":[3,1244]},"axis":null},"y":{"datum":5.351,"type":"quantitative","scale":{"domain":[0,7.5],"range":[3,934]},"axis":null},"text":{"field":"t"}}},
{"data":{"values":[{"t":"&"}]},"mark":{"type":"text","align":"left","baseline":"alphabetic","font":"Lato","fontSize":43.2,"color":"#000000"},"encoding":{"x":{"datum":7.164,"type":"quantitative","scale":{"domain":[0,10],"range":[3,1244]},"axis":null},"y":{"datum":5.351,"type":"quantitative","scale":{"domain":[0,7.5],"range":[3,934]},"axis":null},"text":{"field":"t"}}},
{"data":{"values":[{"t":"momentum"}]},"mark":{"type":"text","align":"left","baseline":"alphabetic","font":"Lato","fontSize":43.2,"color":"#c00000"},"encoding":{"x":{"datum":7.486,"type":"quantitative","scale":{"domain":[0,10],"range":[3,1244]},"axis":null},"y":{"datum":5.351,"type":"quantitative","scale":{"domain":[0,7.5],"range":[3,934]},"axis":null},"text":{"field":"t"}}},
{"data":{"values":[{"t":"Decision-making: Who is in control of the market?"}]},"mark":{"type":"text","align":"left","baseline":"alphabetic","font":"Lato","fontSize":43.2,"color":"#000000"},"encoding":{"x":{"datum":1.45,"type":"quantitative","scale":{"domain":[0,10],"range":[3,1244]},"axis":null},"y":{"datum":5.794,"type":"quantitative","scale":{"domain":[0,7.5],"range":[3,934]},"axis":null},"text":{"field":"t"}}},
{"data":{"values":[{"t":"www."}]},"mark":{"type":"text","align":"left","baseline":"alphabetic","font":"Lato","fontSize":44.5,"color":"#000000"},"encoding":{"x":{"datum":2.981,"type":"quantitative","scale":{"domain":[0,10],"range":[3,1244]},"axis":null},"y":{"datum":7.309,"type":"quantitative","scale":{"domain":[0,7.5],"range":[3,934]},"axis":null},"text":{"field":"t"}}},
{"data":{"values":[{"t":"synapse"}]},"mark":{"type":"text","align":"left","baseline":"alphabetic","font":"Lato","fontSize":44.5,"color":"#c00000"},"encoding":{"x":{"datum":3.892,"type":"quantitative","scale":{"domain":[0,10],"range":[3,1244]},"axis":null},"y":{"datum":7.309,"type":"quantitative","scale":{"domain":[0,7.5],"range":[3,934]},"axis":null},"text":{"field":"t"}}},
{"data":{"values":[{"t":"trading.com"}]},"mark":{"type":"text","align":"left","baseline":"alphabetic","font":"Lato","fontSize":44.5,"color":"#000000"},"encoding":{"x":{"datum":5.133,"type":"quantitative","scale":{"domain":[0,10],"range":[3,1244]},"axis":null},"y":{"datum":7.309,"type":"quantitative","scale":{"domain":[0,7.5],"range":[3,934]},"axis":null},"text":{"field":"t"}}},
{"data":{"values":[{"p":"ring"}]},"mark":{"type":"point","shape":"M0.79,-0.61A1,1,0,1,0,0.5,0.87","size":5476,"filled":false,"stroke":"#3c3c3c","strokeWidth":5,"opacity":1},"encoding":{"x":{"datum":7.333,"type":"quantitative","scale":{"domain":[0,10],"range":[3,1244]},"axis":null},"y":{"datum":0.588,"type":"quantitative","scale":{"domain":[0,7.5],"range":[3,934]},"axis":null}}},
{"data":{"values":[{"p":"l1"}]},"mark":{"type":"rule","color":"#c0161e","strokeWidth":3},"encoding":{"x":{"datum":7.333,"type":"quantitative","scale":{"domain":[0,10],"range":[3,1244]},"axis":null},"y":{"datum":0.564,"type":"quantitative","scale":{"domain":[0,7.5],"range":[3,934]},"axis":null},"x2":{"datum":7.099},"y2":{"datum":0.403}}},
{"data":{"values":[{"p":"l2"}]},"mark":{"type":"rule","color":"#c0161e","strokeWidth":2},"encoding":{"x":{"datum":7.333,"type":"quantitative","scale":{"domain":[0,10],"range":[3,1244]},"axis":null},"y":{"datum":0.564,"type":"quantitative","scale":{"domain":[0,7.5],"range":[3,934]},"axis":null},"x2":{"datum":7.599},"y2":{"datum":0.475}}},
{"data":{"values":[{"p":"l3"}]},"mark":{"type":"rule","color":"#c0161e","strokeWidth":3},"encoding":{"x":{"datum":7.333,"type":"quantitative","scale":{"domain":[0,10],"range":[3,1244]},"axis":null},"y":{"datum":0.564,"type":"quantitative","scale":{"domain":[0,7.5],"range":[3,934]},"axis":null},"x2":{"datum":7.429},"y2":{"datum":0.854}}},
{"data":{"values":[{"p":"ball"}]},"mark":{"type":"point","shape":"circle","size":420,"filled":true,"color":"#c0161e","opacity":1},"encoding":{"x":{"datum":7.333,"type":"quantitative","scale":{"domain":[0,10],"range":[3,1244]},"axis":null},"y":{"datum":0.564,"type":"quantitative","scale":{"domain":[0,7.5],"range":[3,934]},"axis":null}}},
{"data":{"values":[{"p":"n1"}]},"mark":{"type":"point","shape":"circle","size":80,"filled":true,"color":"#c0161e","opacity":1},"encoding":{"x":{"datum":7.099,"type":"quantitative","scale":{"domain":[0,10],"range":[3,1244]},"axis":null},"y":{"datum":0.403,"type":"quantitative","scale":{"domain":[0,7.5],"range":[3,934]},"axis":null}}},
{"data":{"values":[{"p":"n2"}]},"mark":{"type":"point","shape":"circle","size":50,"filled":true,"color":"#c0161e","opacity":1},"encoding":{"x":{"datum":7.599,"type":"quantitative","scale":{"domain":[0,10],"range":[3,1244]},"axis":null},"y":{"datum":0.475,"type":"quantitative","scale":{"domain":[0,7.5],"range":[3,934]},"axis":null}}},
{"data":{"values":[{"p":"n3"}]},"mark":{"type":"point","shape":"circle","size":64,"filled":true,"color":"#c0161e","opacity":1},"encoding":{"x":{"datum":7.429,"type":"quantitative","scale":{"domain":[0,10],"range":[3,1244]},"axis":null},"y":{"datum":0.854,"type":"quantitative","scale":{"domain":[0,7.5],"range":[3,934]},"axis":null}}},
{"data":{"values":[{"t":"synapse"}]},"mark":{"type":"text","align":"left","baseline":"alphabetic","font":"Roboto","fontStyle":"italic","fontWeight":"bold","fontSize":36,"color":"#b8141c"},"encoding":{"x":{"datum":7.445,"type":"quantitative","scale":{"domain":[0,10],"range":[3,1244]},"axis":null},"y":{"datum":0.717,"type":"quantitative","scale":{"domain":[0,7.5],"range":[3,934]},"axis":null},"text":{"field":"t"}}},
{"data":{"values":[{"t":"trading"}]},"mark":{"type":"text","align":"left","baseline":"alphabetic","font":"Roboto","fontStyle":"italic","fontWeight":"bold","fontSize":36,"color":"#4d4d4d"},"encoding":{"x":{"datum":8.49,"type":"quantitative","scale":{"domain":[0,10],"range":[3,1244]},"axis":null},"y":{"datum":0.717,"type":"quantitative","scale":{"domain":[0,7.5],"range":[3,934]},"axis":null},"text":{"field":"t"}}}
]},
{"layer":[
{"data":{"name":"hgrid"},"mark":{"type":"rule","color":"#efefef","strokeWidth":1},"encoding":{"x":{"datum":-0.5,"type":"quantitative","scale":{"domain":[-0.5,244.5],"range":[128,1108]},"axis":null},"x2":{"datum":244.5},"y":{"field":"g","type":"quantitative","scale":{"domain":[98.6,198.5],"range":[552,262]},"axis":null}}},
{"data":{"name":"vgrid"},"mark":{"type":"rule","color":"#e6e6e6","strokeWidth":1.5},"encoding":{"x":{"field":"g","type":"quantitative","scale":{"domain":[-0.5,244.5],"range":[128,1108]},"axis":null},"y":{"datum":98.6,"type":"quantitative","scale":{"domain":[98.6,198.5],"range":[552,262]},"axis":null},"y2":{"datum":198.5}}},
{"data":{"values":[{"level":187.2},{"level":111.4}]},"mark":{"type":"rule","color":"#8c8c8c","strokeWidth":1.2},"encoding":{"x":{"datum":-0.5,"type":"quantitative","scale":{"domain":[-0.5,244.5],"range":[128,1108]},"axis":null},"x2":{"datum":244.5},"y":{"field":"level","type":"quantitative","scale":{"domain":[98.6,198.5],"range":[552,262]},"axis":null}}},
{"data":{"values":[{"level":131.5}]},"mark":{"type":"rule","color":"#9a9a9a","strokeWidth":2},"encoding":{"x":{"datum":-0.5,"type":"quantitative","scale":{"domain":[-0.5,244.5],"range":[128,1108]},"axis":null},"x2":{"datum":244.5},"y":{"field":"level","type":"quantitative","scale":{"domain":[98.6,198.5],"range":[552,262]},"axis":null}}},
{"data":{"values":[{"level":175.5}]},"mark":{"type":"rule","color":"#9fd3a7","strokeWidth":1,"strokeDash":[2,2]},"encoding":{"x":{"datum":-0.5,"type":"quantitative","scale":{"domain":[-0.5,244.5],"range":[128,1108]},"axis":null},"x2":{"datum":244.5},"y":{"field":"level","type":"quantitative","scale":{"domain":[98.6,198.5],"range":[552,262]},"axis":null}}},
{"data":{"values":[{"level":141.7}]},"mark":{"type":"rule","color":"#8c8cff","strokeWidth":1.5},"encoding":{"x":{"datum":-0.5,"type":"quantitative","scale":{"domain":[-0.5,244.5],"range":[128,1108]},"axis":null},"x2":{"datum":244.5},"y":{"field":"level","type":"quantitative","scale":{"domain":[98.6,198.5],"range":[552,262]},"axis":null}}},
{"data":{"values":[{"at":191.75}]},"mark":{"type":"rule","color":"#8a8a8a","strokeWidth":1,"strokeDash":[3,3]},"encoding":{"x":{"field":"at","type":"quantitative","scale":{"domain":[-0.5,244.5],"range":[128,1108]},"axis":null},"y":{"datum":98.6,"type":"quantitative","scale":{"domain":[98.6,198.5],"range":[552,262]},"axis":null},"y2":{"datum":198.5}}},
{"data":{"name":"trend"},"mark":{"type":"rule","color":"#6e6e6e","strokeWidth":1},"encoding":{"x":{"field":"i1","type":"quantitative","scale":{"domain":[-0.5,244.5],"range":[128,1108]},"axis":null},"y":{"field":"p1","type":"quantitative","scale":{"domain":[98.6,198.5],"range":[552,262]},"axis":null},"x2":{"field":"i2"},"y2":{"field":"p2"}}},
{"data":{"name":"ma"},"mark":{"type":"line","strokeWidth":1.2,"interpolate":"monotone"},"encoding":{"x":{"field":"i","type":"quantitative","scale":{"domain":[-0.5,244.5],"range":[128,1108]},"axis":null},"y":{"field":"p","type":"quantitative","scale":{"domain":[98.6,198.5],"range":[552,262]},"axis":null},"color":{"field":"s","type":"nominal","scale":{"domain":["fast","mid","slow"],"range":["#6e6eff","#e36b6b","#f7dc93"]},"legend":null}}},
{"data":{"name":"candles"},"mark":{"type":"rule","color":"#a8a8a8","strokeWidth":1},"encoding":{"x":{"field":"i","type":"quantitative","scale":{"domain":[-0.5,244.5],"range":[128,1108]},"axis":null},"y":{"field":"l","type":"quantitative","scale":{"domain":[98.6,198.5],"range":[552,262]},"axis":null},"y2":{"field":"h"}}},
{"data":{"name":"candles"},"mark":{"type":"bar","width":3},"encoding":{"x":{"field":"i","type":"quantitative","scale":{"domain":[-0.5,244.5],"range":[128,1108]},"axis":null},"y":{"field":"o","type":"quantitative","scale":{"domain":[98.6,198.5],"range":[552,262]},"axis":null},"y2":{"field":"c"},"color":{"condition":{"test":"datum.c >= datum.o","value":"#3f8f5f"},"value":"#a32b21"}}},
{"data":{"name":"signals"},"mark":{"type":"point","filled":true,"shape":"M-1,-0.35H1V0.35H-1Z","size":49,"opacity":1},"encoding":{"x":{"field":"i","type":"quantitative","scale":{"domain":[-0.5,244.5],"range":[128,1108]},"axis":null},"y":{"field":"p","type":"quantitative","scale":{"domain":[98.6,198.5],"range":[552,262]},"axis":null},"color":{"condition":{"test":"datum.k === 'y'","value":"#f5c400"},"value":"#8fd14f"}}}
]}
]
}
